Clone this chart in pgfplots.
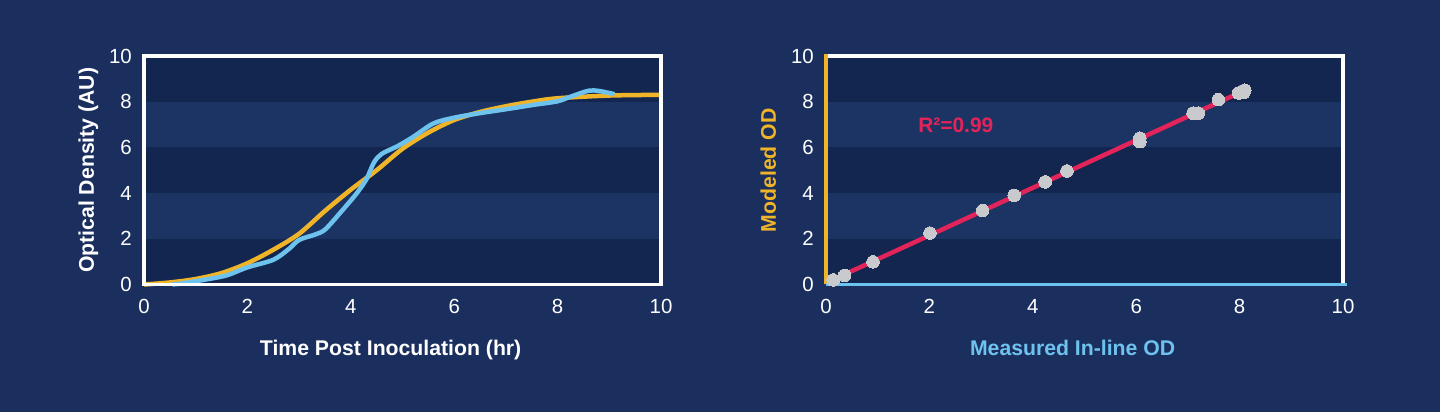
\documentclass[border=0pt]{standalone}
\usepackage{fontspec}
\setmainfont{Liberation Sans}
\usepackage{pgfplots}
\pgfplotsset{compat=1.18}
\definecolor{bg}{HTML}{1B2F5E}
\definecolor{bandD}{HTML}{132650}
\definecolor{bandL}{HTML}{1C3463}
\definecolor{gold}{HTML}{F0B429}
\definecolor{sky}{HTML}{6EC3EE}
\definecolor{crim}{HTML}{E2245A}
\definecolor{dot}{HTML}{C9CACE}
\pgfplotsset{
  myax/.style={
    scale only axis, width=517bp, height=228.5bp,
    xmin=0, xmax=10, ymin=0, ymax=10,
    xtick={0,2,...,10}, ytick={0,2,...,10},
    major tick length=0pt, axis line style={draw=none},
    clip=false, anchor=south west,
    /pgf/number format/assume math mode=true,
    tick label style={font=\fontsize{20.5}{24}\selectfont, text=white, inner sep=0pt},
    yticklabel style={anchor=east, xshift=-12bp},
    xticklabel style={anchor=north, yshift=-15bp},
    label style={font=\fontsize{21.3}{25}\selectfont\bfseries},
    xlabel style={at={(axis description cs:0.477,0)}, anchor=base, yshift=-70.5bp},
    ylabel style={at={(axis description cs:-0.097,0.5)}, anchor=base},
  }
}
\newcommand\bands{%
  \fill[bandD] (axis cs:0,0) rectangle (axis cs:10,10);
  \fill[bandL] (axis cs:0,2) rectangle (axis cs:10,4);
  \fill[bandL] (axis cs:0,6) rectangle (axis cs:10,8);
}
\begin{document}
\begin{tikzpicture}
\path[use as bounding box, fill=bg] (0,0) rectangle (1440bp,412bp);
\begin{axis}[myax, at={(144bp,127.5bp)},
  xlabel={Time Post Inoculation (hr)}, ylabel={Optical Density (AU)},
  xlabel style={text=white}, ylabel style={text=white}]
\bands
\addplot[gold, line width=4.5bp, smooth, tension=0.5] coordinates {
(0,0) (0.5,0.09) (1.0,0.24) (1.5,0.50) (2.0,0.93) (2.5,1.52) (3.0,2.22)
(3.5,3.22) (4.0,4.15) (4.5,5.0) (5.0,5.94) (5.5,6.65) (6.0,7.2) (6.5,7.55)
(7.0,7.8) (7.5,8.0) (8.0,8.15) (9.0,8.27) (10,8.3)};
\addplot[sky, line width=4.5bp, smooth, tension=0.5] coordinates {
(0.55,0.0) (0.8,0.07) (1.2,0.22) (1.6,0.40) (2.0,0.75) (2.5,1.08) (2.8,1.55)
(3.0,1.95) (3.3,2.18) (3.5,2.40) (3.8,3.15) (4.1,3.95) (4.3,4.60) (4.45,5.35)
(4.6,5.72) (4.9,6.05) (5.2,6.45) (5.6,7.05) (6.0,7.30) (6.5,7.50) (7.0,7.67)
(7.5,7.85) (8.0,8.02) (8.3,8.26) (8.6,8.48) (8.8,8.47) (9.1,8.33)};
\draw[white, line width=3.5bp] (axis cs:0,0) rectangle (axis cs:10,10);
\end{axis}
\begin{axis}[myax, at={(826bp,127.5bp)},
  xlabel={Measured In-line OD}, ylabel={Modeled OD},
  xlabel style={text=sky}, ylabel style={text=gold}]
\bands
\addplot[crim, line width=4.5bp] coordinates {(0.05,0.12) (8.12,8.52)};
\addplot[only marks, mark=*, mark size=6.3bp, mark options={fill=dot, draw=dot, line width=0pt}] coordinates {
(0.14,0.2) (0.36,0.4) (0.91,0.99) (2.01,2.25) (3.03,3.24) (3.64,3.9) (4.24,4.49)
(4.66,4.97) (6.07,6.4) (6.07,6.25) (7.1,7.5) (7.2,7.5) (7.59,8.09) (7.98,8.38)
(8.06,8.47) (8.08,8.4) (8.1,8.5)};
\node[text=crim, font=\fontsize{21}{25}\selectfont\bfseries, inner sep=0pt] at (axis cs:2.51,6.96) {R²=0.99};
\draw[white, line width=3.5bp] (axis cs:0,10) -- (axis cs:10,10) -- (axis cs:10,0);
\draw[gold, line width=3.5bp] (axis cs:0,0) -- (axis cs:0,10.08);
\draw[sky, line width=3.5bp] (axis cs:0,0) -- (axis cs:10.08,0);
\end{axis}
\end{tikzpicture}
\end{document}
